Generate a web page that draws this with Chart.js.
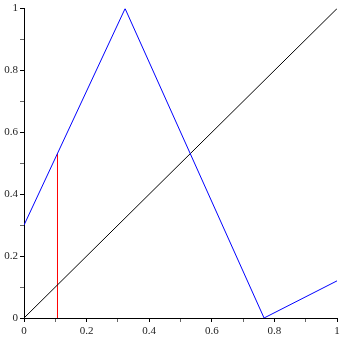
<!DOCTYPE html>
<html>
<head>
<meta charset="utf-8">
<script src="https://cdn.jsdelivr.net/npm/chart.js@4.4.0/dist/chart.umd.min.js"></script>
<style>
  html, body { margin: 0; padding: 0; background: #fff; }
  #wrap { width: 349px; height: 345px; }
</style>
</head>
<body>
<div id="wrap"><canvas id="myChart" width="349" height="345"></canvas></div>
<script>
// blue piecewise curve
const curveX = [0, 0.323, 0.767, 1]
const curveY = [0.3, 1, 0, 0.12]
// diagonal y = x
const diagX = [0, 1]
const diagY = [0, 1]
// red marker line
const markX = [0.107, 0.107]
const markY = [0, 0.53]

const toPoints = (xs, ys) => xs.map((x, i) => ({x: x, y: ys[i]}))

const fmt = (v) => {
  const r = Math.round(v * 10)
  if (r % 2 !== 0) return ''
  return r === 0 ? '0' : r === 10 ? '1' : (r / 10).toFixed(1)
}

const axis = (pos) => ({
  type: 'linear',
  min: 0,
  max: 1,
  border: { display: true, color: '#000', width: 1 },
  grid: { drawOnChartArea: false, drawTicks: true, tickLength: 4, color: '#000',
          tickColor: (c) => Math.round(c.tick.value * 10) % 2 === 0 ? '#000' : '#666' },
  ticks: {
    stepSize: 0.1,
    autoSkip: false,
    maxRotation: 0,
    color: '#222',
    padding: pos === 'x' ? 3 : 2,
    font: { family: 'Liberation Serif', size: 11 },
    callback: (v) => fmt(v)
  },
  afterFit: (s) => {
    if (pos === 'x') s.height = 27
    else s.width = 24
  }
})

const ctx = document.getElementById('myChart').getContext('2d')
new Chart(ctx, {
  type: 'scatter',
  data: {
    datasets: [
      { data: toPoints(curveX, curveY), showLine: true, borderColor: '#0000ff', borderWidth: 1, pointRadius: 0, tension: 0 },
      { data: toPoints(diagX, diagY), showLine: true, borderColor: '#000', borderWidth: 1, pointRadius: 0 },
      { data: toPoints(markX, markY), showLine: true, borderColor: '#ff0000', borderWidth: 1, pointRadius: 0 }
    ]
  },
  options: {
    responsive: false,
    animation: false,
    layout: { padding: { top: 8, right: 12, left: 0, bottom: 0 } },
    plugins: { legend: { display: false }, tooltip: { enabled: false } },
    scales: { x: axis('x'), y: axis('y') }
  }
})
</script>
</body>
</html>
